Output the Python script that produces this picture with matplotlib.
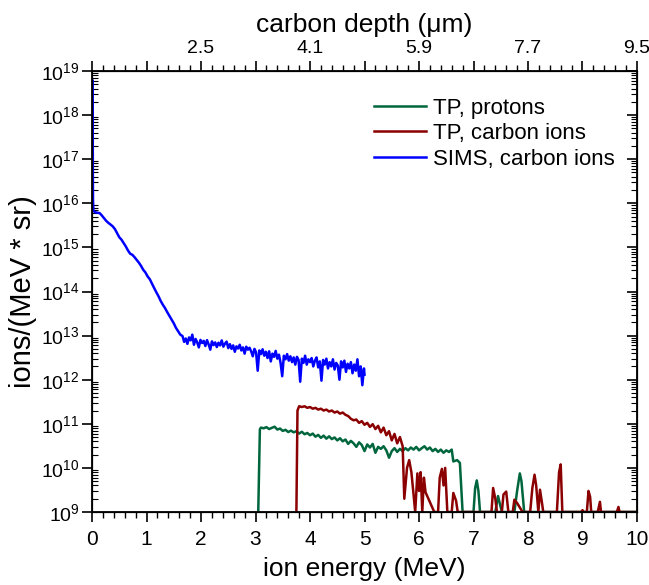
import matplotlib
matplotlib.use('Agg')
import matplotlib.pyplot as plt
import numpy as np
from matplotlib.ticker import MultipleLocator, LogLocator, FixedLocator, NullFormatter

plt.rcParams['font.family'] = ['Liberation Sans', 'DejaVu Sans']
plt.rcParams['mathtext.fontset'] = 'custom'
plt.rcParams['mathtext.rm'] = 'Liberation Sans'
plt.rcParams['mathtext.it'] = 'Liberation Sans:italic'

# SIMS, carbon ions (blue)
sims_energy = [0.012, 0.015, 0.018, 0.025, 0.05, 0.10, 0.14, 0.18, 0.22, 0.26, 0.30, 0.34, 0.38,
               0.42, 0.46, 0.50, 0.54, 0.58, 0.62, 0.66, 0.70, 0.74, 0.78, 0.82, 0.86, 0.90,
               0.94, 0.98, 1.02, 1.06, 1.10, 1.14, 1.18, 1.22, 1.26, 1.30, 1.34, 1.38, 1.42,
               1.46, 1.50, 1.54, 1.58, 1.62,
               1.66, 1.69, 1.72, 1.75, 1.78, 1.81, 1.84, 1.87, 1.90, 1.93, 1.96, 1.99,
               2.02, 2.05, 2.08, 2.11, 2.14, 2.17, 2.20, 2.23, 2.26, 2.29, 2.32, 2.35,
               2.38, 2.41, 2.44, 2.47, 2.50, 2.53, 2.56, 2.59, 2.62, 2.65, 2.68, 2.71,
               2.74, 2.77, 2.80, 2.83, 2.86, 2.89, 2.92, 2.95, 2.98, 3.01, 3.04, 3.07,
               3.10, 3.13, 3.16, 3.19, 3.22, 3.25, 3.28, 3.31, 3.34, 3.37, 3.40, 3.43,
               3.46, 3.49, 3.52, 3.55, 3.58, 3.61, 3.64, 3.67, 3.70, 3.73, 3.76, 3.79,
               3.82, 3.85, 3.88, 3.91, 3.94, 3.97, 4.00, 4.03, 4.06, 4.09, 4.12, 4.15,
               4.18, 4.21, 4.24, 4.27, 4.30, 4.33, 4.36, 4.39, 4.42, 4.45, 4.48, 4.51,
               4.54, 4.57, 4.60, 4.63, 4.66, 4.69, 4.72, 4.75, 4.78, 4.81, 4.84, 4.87,
               4.90, 4.93, 4.96, 4.99, 5.00]
sims_counts = [6.0e18, 5.0e16, 1.2e16, 6.8e15, 6.3e15, 6.1e15, 6.0e15, 5.3e15, 4.6e15, 4.0e15,
               3.6e15, 3.3e15, 3.0e15, 2.6e15, 2.1e15, 1.7e15, 1.5e15, 1.25e15, 1.05e15, 8.5e14,
               7.2e14, 6.8e14, 6.0e14, 5.2e14, 4.5e14, 3.8e14, 3.1e14, 2.7e14, 2.2e14, 1.9e14,
               1.5e14, 1.2e14, 9.6e13, 7.8e13, 6.1e13, 5.0e13, 4.2e13, 3.4e13, 2.8e13, 2.3e13,
               1.9e13, 1.5e13, 1.25e13, 1.05e13,
               9.8e12, 7.2e12, 8.6e12, 6.5e12, 9.1e12, 7.8e12, 1.05e13, 6.2e12, 8.4e12, 7.0e12,
               5.4e12, 8.0e12, 6.8e12, 7.6e12, 5.8e12, 7.9e12, 6.3e12, 4.8e12, 7.4e12, 6.1e12,
               7.0e12, 5.5e12, 6.9e12, 6.0e12, 7.8e12, 5.6e12, 6.6e12, 7.3e12, 5.2e12, 6.4e12,
               5.0e12, 6.0e12, 4.3e12, 5.7e12, 5.1e12, 6.2e12, 4.6e12, 5.4e12, 3.9e12, 5.6e12,
               4.8e12, 5.3e12, 4.4e12, 3.4e12, 5.0e12, 4.2e12, 1.6e12, 4.6e12, 3.8e12, 4.9e12,
               3.5e12, 4.3e12, 3.1e12, 4.4e12, 2.6e12, 3.9e12, 3.3e12, 4.5e12, 3.0e12, 3.7e12,
               2.4e12, 1.2e12, 3.5e12, 2.9e12, 3.8e12, 2.7e12, 3.4e12, 2.5e12, 3.2e12, 2.2e12,
               3.3e12, 2.8e12, 9.0e11, 3.0e12, 2.4e12, 3.5e12, 2.2e12, 2.9e12, 2.5e12, 3.1e12,
               2.0e12, 2.7e12, 3.2e12, 1.9e12, 2.6e12, 9.5e11, 2.8e12, 2.2e12, 3.0e12, 1.8e12,
               2.5e12, 2.0e12, 2.9e12, 1.7e12, 2.4e12, 2.1e12, 1.0e12, 2.6e12, 1.9e12, 2.7e12,
               1.5e12, 2.3e12, 1.8e12, 2.5e12, 1.4e12, 2.2e12, 1.6e12, 2.9e12, 1.2e12, 2.0e12,
               7.5e11, 1.8e12, 1.3e12]

# TP, protons (green)
proton_energy = [3.05, 3.08, 3.10, 3.15, 3.20, 3.25, 3.30, 3.35, 3.40, 3.45, 3.50, 3.55, 3.60,
                 3.65, 3.70, 3.75, 3.80, 3.85, 3.90, 3.95, 4.00, 4.05, 4.10, 4.15, 4.20, 4.25,
                 4.30, 4.35, 4.40, 4.45, 4.50, 4.55, 4.60, 4.65, 4.70, 4.75, 4.80, 4.85, 4.90,
                 4.95, 5.00, 5.05, 5.10, 5.15, 5.20, 5.25, 5.30, 5.35, 5.40, 5.45, 5.50, 5.55,
                 5.60, 5.65, 5.70, 5.75, 5.80, 5.85, 5.90, 5.95, 6.00, 6.05, 6.10, 6.15, 6.20,
                 6.25, 6.30, 6.35, 6.40, 6.45, 6.50, 6.55, 6.60, 6.63, 6.70, 6.75, 6.80, 7.00,
                 7.03, 7.06, 7.09, 7.12, 7.40, 7.45, 7.48, 7.52, 7.75, 7.80, 7.85, 7.88, 7.93,
                 10.0]
proton_counts = [1e9, 7.5e10, 8.2e10, 7.9e10, 8.4e10, 7.6e10, 8.1e10, 8.6e10, 7.4e10, 7.8e10,
                 6.9e10, 7.3e10, 6.5e10, 7.0e10, 6.4e10, 6.8e10, 6.0e10, 6.6e10, 5.8e10, 6.2e10,
                 5.5e10, 6.0e10, 5.1e10, 5.6e10, 4.8e10, 5.4e10, 4.6e10, 5.2e10, 4.5e10, 4.9e10,
                 4.2e10, 4.7e10, 4.0e10, 4.4e10, 3.5e10, 4.1e10, 3.6e10, 3.0e10, 3.8e10, 3.3e10,
                 2.4e10, 3.4e10, 2.9e10, 3.5e10, 2.2e10, 3.0e10, 2.7e10, 3.1e10, 2.5e10, 1.7e10,
                 2.4e10, 2.8e10, 2.3e10, 2.7e10, 2.4e10, 2.8e10, 2.5e10, 2.9e10, 2.6e10, 3.0e10,
                 2.5e10, 2.8e10, 3.1e10, 2.6e10, 2.9e10, 2.4e10, 2.7e10, 2.3e10, 2.6e10, 2.2e10,
                 2.5e10, 2.3e10, 2.6e10, 1.4e10, 1.5e10, 1.3e10, 1e9, 1e9,
                 3.5e9, 5.2e9, 3.0e9, 1e9, 1e9, 2.3e9, 1.6e9, 1e9, 1e9, 3.0e9, 7.5e9, 5.0e9, 1e9,
                 1e9]

# TP, carbon ions (dark red)
carbon_energy = [3.75, 3.77, 3.80, 3.85, 3.90, 3.95, 4.00, 4.05, 4.10, 4.15, 4.20, 4.25, 4.30,
                 4.35, 4.40, 4.45, 4.50, 4.55, 4.60, 4.65, 4.70, 4.75, 4.80, 4.85, 4.90, 4.95,
                 5.00, 5.05, 5.10, 5.15, 5.20, 5.25, 5.30, 5.35, 5.40, 5.45, 5.50, 5.55, 5.60,
                 5.65, 5.70, 5.73, 5.78, 5.82, 5.86, 5.90, 5.93, 5.97, 6.00, 6.03, 6.06, 6.09,
                 6.12, 6.28, 6.35, 6.38, 6.42, 6.45, 6.48, 6.52, 6.60, 6.63, 6.68, 6.71, 7.33,
                 7.36, 7.40, 7.43, 7.52, 7.55, 7.60, 7.64, 7.72, 7.75, 7.80, 7.90, 8.04, 8.08,
                 8.12, 8.15, 8.19, 8.22, 8.26, 8.28, 8.53, 8.57, 8.60, 8.63, 8.98, 9.00, 9.02,
                 9.08, 9.11, 9.14, 9.16, 9.28, 9.32, 9.34, 9.63, 9.66, 9.68, 10.0]
carbon_counts = [1e9, 2.0e11, 2.5e11, 2.4e11, 2.5e11, 2.3e11, 2.4e11, 2.2e11, 2.3e11, 2.1e11,
                 2.2e11, 2.0e11, 2.1e11, 1.9e11, 2.0e11, 1.8e11, 1.9e11, 1.7e11, 1.8e11, 1.6e11,
                 1.5e11, 1.3e11, 1.2e11, 1.25e11, 1.05e11, 1.15e11, 9.5e10, 1.05e11, 8.5e10,
                 9.8e10, 7.6e10, 9.0e10, 6.4e10, 8.2e10, 5.5e10, 6.8e10, 4.2e10, 5.9e10, 3.6e10,
                 5.0e10, 3.1e10, 2.0e9, 1.0e10, 1.5e10, 8.0e9, 2.5e9, 1e9, 7.5e9, 3.0e9, 8.0e9,
                 1e9, 6.0e9, 2.8e9, 1e9, 1e9, 6.0e9, 9.5e9, 4.0e9, 1.0e10, 1e9, 1e9, 2.7e9,
                 1.8e9, 1e9, 1e9, 3.5e9, 2.0e9, 1e9, 1e9, 2.5e9, 2.9e9, 1e9, 1e9, 1.9e9, 1.6e9,
                 1e9, 1e9, 3.5e9, 7.0e9, 4.0e9, 1e9, 3.2e9, 1.5e9, 1e9, 1e9, 8.0e9, 1.2e10, 1e9,
                 1e9, 1.1e9, 1e9, 1e9, 3.0e9, 2.2e9, 1e9, 1e9, 1.7e9, 1e9, 1e9, 1.3e9, 1e9, 1e9]

# top axis: carbon depth labels at even energies
depth_ticks = [0, 1, 2, 3, 4, 5, 6, 7, 8, 9, 10]
depth_labels = ['', '', '2.5', '', '4.1', '', '5.9', '', '7.7', '', '9.5']

fig = plt.figure(figsize=(6.49, 5.85), dpi=100)
ax = fig.add_axes([0.1418, 0.1248, 0.8397, 0.7538])

ax.plot(proton_energy, proton_counts, color='#00663d', lw=1.8, label='TP, protons')
ax.plot(carbon_energy, carbon_counts, color='#8b0000', lw=1.8, label='TP, carbon ions')
ax.plot(sims_energy, sims_counts, color='#0000ff', lw=1.8, label='SIMS, carbon ions')

ax.set_yscale('log')
ax.set_xlim(0, 10)
ax.set_ylim(1e9, 1e19)
ax.xaxis.set_major_locator(MultipleLocator(1))
ax.xaxis.set_minor_locator(MultipleLocator(0.2))
ax.yaxis.set_major_locator(LogLocator(base=10, numticks=20))
ax.yaxis.set_minor_locator(LogLocator(base=10, subs=np.arange(2, 10), numticks=20))
ax.yaxis.set_minor_formatter(NullFormatter())

ax.tick_params(axis='x', which='major', direction='out', length=7, width=1.2, labelsize=15, pad=6)
ax.tick_params(axis='x', which='minor', direction='out', length=4, width=1.0)
ax.tick_params(axis='y', which='major', direction='out', length=7, width=1.2, labelsize=14, pad=2)
ax.tick_params(axis='y', which='minor', direction='in', length=4, width=0.8)

ax.set_xlabel('ion energy (MeV)', fontsize=19, labelpad=6)
ax.set_ylabel('ions/(MeV * sr)', fontsize=21, labelpad=3)

for s in ax.spines.values():
    s.set_linewidth(1.3)

# right-hand ticks
axr = ax.twinx()
axr.set_yscale('log')
axr.set_ylim(1e9, 1e19)
axr.yaxis.set_major_locator(LogLocator(base=10, numticks=20))
axr.yaxis.set_minor_locator(LogLocator(base=10, subs=np.arange(2, 10), numticks=20))
axr.tick_params(axis='y', which='major', direction='in', length=7, width=1.2, labelright=False)
axr.tick_params(axis='y', which='minor', direction='in', length=4, width=0.8)

# top axis: carbon depth
axt = ax.twiny()
axt.set_xlim(0, 10)
axt.xaxis.set_major_locator(FixedLocator(depth_ticks))
axt.set_xticklabels(depth_labels)
axt.xaxis.set_minor_locator(MultipleLocator(0.2))
axt.tick_params(axis='x', which='major', direction='out', length=7, width=1.2, labelsize=14, pad=3)
axt.tick_params(axis='x', which='minor', direction='out', length=4, width=1.0)
axt.set_xlabel('carbon depth (\u03bcm)', fontsize=19, labelpad=6)

leg = ax.legend(loc='upper right', frameon=False, fontsize=16, handlelength=2.35,
                handletextpad=0.3, labelspacing=0.2, bbox_to_anchor=(0.995, 0.985))

fig.savefig('out.png', dpi=100)
